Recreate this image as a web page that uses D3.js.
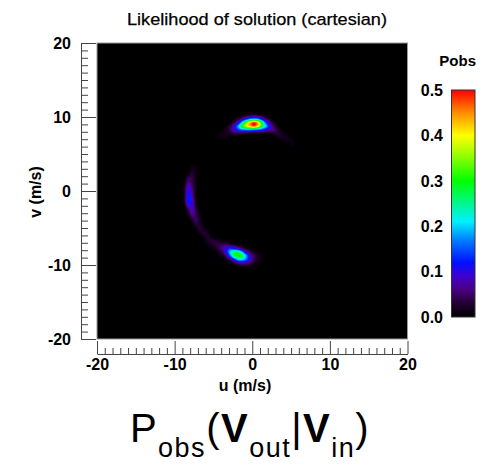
<!DOCTYPE html>
<html><head><meta charset="utf-8">
<script src="https://cdn.jsdelivr.net/npm/d3@7"></script>
<style>
body{margin:0;background:#fff}
svg{display:block}
text{font-family:"Liberation Sans",Arial,Helvetica,sans-serif;fill:#000}
</style>
</head><body>
<svg id="c" width="485" height="466"></svg>
<script>
// ---------- data ----------
const uTicks=[-20,-10,0,10,20];
const vTicks=[-20,-10,0,10,20];
const minorTicks=d3.range(-20,21,1).filter(d=>d%10!==0);
const cTicks=[0,0.1,0.2,0.3,0.4,0.5];
const colorStops=[0,0.03,0.06,0.09,0.12,0.17,0.21,0.3,0.36,0.4,0.45,0.5];
const colorRange=["#000000","#220032","#4a0080","#4000d0","#0010ff","#0080ff","#00f0ff","#00ff00","#a0ff00","#ffff00","#ff8c00","#ff0000"];
const gridStep=0.5;
// likelihood samples (Pobs x 100) on a 0.5 m/s grid, rows from high v to low v
const topCapU0=-4.25, topCapV0=10.75;
const topCap=[
 [0,0,0,0,0,0,0,0,0,0,0,0,0,0,0,0,0,0,0,0],
 [0,0,0,0,0,0,1,2,3,4,3,2,1,0,0,0,0,0,0,0],
 [0,0,0,0,1,3,7,12,17,19,17,11,5,2,0,0,0,0,0,0],
 [0,0,0,1,4,10,21,33,42,48,42,28,15,7,2,0,0,0,0,0],
 [0,0,1,4,10,19,30,38,42,46,40,29,20,11,5,1,0,0,0,0],
 [0,1,2,5,9,13,16,17,17,16,15,13,9,7,6,3,1,0,0,0],
 [1,1,2,2,3,3,2,2,1,1,1,1,1,1,2,3,2,1,0,0],
 [1,1,1,0,0,0,0,0,0,0,0,0,0,0,0,1,2,2,1,0],
 [0,0,0,0,0,0,0,0,0,0,0,0,0,0,0,0,0,1,1,1],
 [0,0,0,0,0,0,0,0,0,0,0,0,0,0,0,0,0,0,0,1]
];
const leftArcU0=-8.75, leftArcV0=3.25;
const leftArc=[
 [0,0,1,1,0,0,0,0,0,0],
 [0,0,2,1,0,0,0,0,0,0],
 [0,1,3,1,0,0,0,0,0,0],
 [0,4,4,1,0,0,0,0,0,0],
 [1,5,4,1,0,0,0,0,0,0],
 [1,8,5,1,0,0,0,0,0,0],
 [2,10,6,1,0,0,0,0,0,0],
 [2,11,7,1,0,0,0,0,0,0],
 [2,12,8,1,0,0,0,0,0,0],
 [2,12,9,2,0,0,0,0,0,0],
 [1,10,10,2,0,0,0,0,0,0],
 [0,6,9,3,0,0,0,0,0,0],
 [0,3,8,4,1,0,0,0,0,0],
 [0,1,6,4,1,0,0,0,0,0],
 [0,0,3,5,2,0,0,0,0,0],
 [0,0,1,4,2,0,0,0,0,0],
 [0,0,0,2,3,1,0,0,0,0],
 [0,0,0,0,3,2,1,0,0,0],
 [0,0,0,0,1,3,2,0,0,0],
 [0,0,0,0,0,1,3,1,0,0],
 [0,0,0,0,0,0,1,3,1,0],
 [0,0,0,0,0,0,0,1,3,2],
 [0,0,0,0,0,0,0,0,0,3]
];
const bottomCapU0=-5.75, bottomCapV0=-6.75;
const bottomCap=[
 [2,3,3,2,1,1,0,0,0,0,0,0,0,0,0,0],
 [1,2,3,4,4,5,3,2,1,1,0,0,0,0,0,0],
 [0,1,2,4,7,11,13,11,8,4,2,1,0,0,0,0],
 [0,0,0,2,5,12,21,26,26,18,9,4,2,1,0,0],
 [0,0,0,1,2,7,17,28,30,27,18,9,4,2,1,0],
 [0,0,0,0,0,2,6,13,20,20,15,9,4,2,1,0],
 [0,0,0,0,0,0,1,3,6,7,7,4,2,1,0,0],
 [0,0,0,0,0,0,0,0,1,1,1,1,1,0,0,0]
];

// ---------- build grid ----------
const lo=-20, N=80;
const G=Array.from({length:N},()=>new Float64Array(N));
function addPatch(rows,u0,v0){
  rows.forEach((row,r)=>row.forEach((val,c)=>{
    const u=u0+c*gridStep, v=v0-r*gridStep;
    const i=Math.round((u-lo)/gridStep-0.5), j=Math.round((-lo-v)/gridStep-0.5);
    if(i>=0&&i<N&&j>=0&&j<N) G[j][i]=Math.max(G[j][i],val/100);
  }));
}
addPatch(topCap,topCapU0,topCapV0);
addPatch(leftArc,leftArcU0,leftArcV0);
addPatch(bottomCap,bottomCapU0,bottomCapV0);
function g(j,i){i=Math.max(0,Math.min(N-1,i));j=Math.max(0,Math.min(N-1,j));return G[j][i];}
function cr(p0,p1,p2,p3,t){return p1+0.5*t*(p2-p0+t*(2*p0-5*p1+4*p2-p3+t*(3*(p1-p2)+p3-p0)));}
function sample(u,v){
  const fi=(u-lo)/gridStep-0.5, fj=(-lo-v)/gridStep-0.5;
  const i0=Math.floor(fi), j0=Math.floor(fj), tx=fi-i0, ty=fj-j0;
  const rows=[];
  for(let dj=-1;dj<=2;dj++){
    rows.push(cr(g(j0+dj,i0-1),g(j0+dj,i0),g(j0+dj,i0+1),g(j0+dj,i0+2),tx));
  }
  return Math.max(0,cr(rows[0],rows[1],rows[2],rows[3],ty));
}

// ---------- scales ----------
const svg=d3.select("#c");
const x=d3.scaleLinear().domain([-20,20]).range([97,407.5]);
const y=d3.scaleLinear().domain([-20,20]).range([339,43]);
const color=d3.scaleLinear().domain(colorStops).range(colorRange).clamp(true);
const cy=d3.scaleLinear().domain([0,0.5]).range([317,90]);
const AX="#444";
const fmtInt=d=>String(d);

// ---------- heat map ----------
const W=Math.round(x(20)-x(-20)), H=Math.round(y(-20)-y(20));
const cv=document.createElement("canvas"); cv.width=W; cv.height=H;
const ctx=cv.getContext("2d"); const img=ctx.createImageData(W,H);
const lut=d3.range(512).map(k=>d3.rgb(color(k/511*0.5)));
for(let py=0;py<H;py++){
  const v=y.invert(y(20)+py+0.5);
  for(let px=0;px<W;px++){
    const u=x.invert(x(-20)+px+0.5);
    const p=sample(u,v);
    const c=lut[Math.max(0,Math.min(511,Math.round(p/0.5*511)))];
    const o=(py*W+px)*4;
    img.data[o]=c.r;img.data[o+1]=c.g;img.data[o+2]=c.b;img.data[o+3]=255;
  }
}
ctx.putImageData(img,0,0);
svg.append("rect").attr("x",x(-20)).attr("y",y(20)).attr("width",x(20)-x(-20)).attr("height",y(-20)-y(20)).attr("fill","#000");
svg.append("image").attr("href",cv.toDataURL()).attr("x",x(-20)).attr("y",y(20))
  .attr("width",x(20)-x(-20)).attr("height",y(-20)-y(20)).attr("preserveAspectRatio","none");
svg.append("rect").attr("x",x(-20)).attr("y",y(20)).attr("width",x(20)-x(-20)).attr("height",y(-20)-y(20))
  .attr("fill","none").attr("stroke","#999").attr("stroke-width",1);

// ---------- axes ----------
function styleAxis(sel){sel.selectAll("line").attr("stroke",AX);sel.selectAll("path").attr("stroke",AX);}
const yAx=svg.append("g").attr("transform","translate(81,0)");
yAx.append("g").call(d3.axisRight(y).tickValues(vTicks).tickSize(15).tickSizeOuter(0).tickFormat("")).call(styleAxis);
yAx.append("g").call(d3.axisRight(y).tickValues(minorTicks).tickSize(7).tickFormat("")).call(g=>g.select(".domain").remove()).call(styleAxis);
yAx.append("g").call(d3.axisLeft(y).tickValues(vTicks).tickSize(0).tickPadding(10).tickFormat(fmtInt))
  .call(g=>g.select(".domain").remove())
  .call(g=>g.selectAll("text").style("font-size","16px").style("font-weight","bold"))
  .attr("font-family",null).attr("font-size",null);

const xAx=svg.append("g").attr("transform","translate(0,354)");
xAx.append("g").call(d3.axisTop(x).tickValues(uTicks).tickSize(13).tickSizeOuter(0).tickFormat("")).call(styleAxis);
xAx.append("g").call(d3.axisTop(x).tickValues(minorTicks).tickSize(6).tickFormat("")).call(g=>g.select(".domain").remove()).call(styleAxis);
xAx.append("g").call(d3.axisBottom(x).tickValues(uTicks).tickSize(0).tickPadding(5).tickFormat(fmtInt))
  .call(g=>g.select(".domain").remove())
  .call(g=>g.selectAll("text").style("font-size","16px").style("font-weight","bold"))
  .attr("font-family",null).attr("font-size",null);

// ---------- labels ----------
svg.append("text").attr("x",257).attr("y",25).attr("text-anchor","middle")
  .style("font-size","17px").attr("textLength",260).attr("lengthAdjust","spacingAndGlyphs")
  .style("stroke","#000").style("stroke-width","0.25px")
  .text("Likelihood of solution (cartesian)");
svg.append("text").attr("x",245).attr("y",391).attr("text-anchor","middle")
  .style("font-size","16px").style("font-weight","bold").text("u (m/s)");
svg.append("text").attr("transform","translate(41,192) rotate(-90)").attr("text-anchor","middle")
  .style("font-size","16px").style("font-weight","bold").text("v (m/s)");

// ---------- colour bar ----------
const defs=svg.append("defs");
const grad=defs.append("linearGradient").attr("id","cb").attr("x1",0).attr("y1",1).attr("x2",0).attr("y2",0);
colorStops.forEach((s,k)=>grad.append("stop").attr("offset",s/0.5).attr("stop-color",colorRange[k]));
svg.append("rect").attr("x",451.5).attr("y",cy(0.5)).attr("width",23.5).attr("height",cy(0)-cy(0.5))
  .attr("fill","url(#cb)").attr("stroke","#333").attr("stroke-width",1);
svg.append("g").selectAll("text").data(cTicks).join("text")
  .attr("x",443).attr("y",d=>cy(d)).attr("dy","0.36em").attr("text-anchor","end")
  .style("font-size","16px").style("font-weight","bold").text(d3.format(".1f"));
svg.append("text").attr("x",476).attr("y",66).attr("text-anchor","end")
  .style("font-size","15px").style("font-weight","bold").text("Pobs");

// ---------- formula ----------
const f=svg.append("text").attr("x",250).attr("y",442).attr("text-anchor","middle")
  .style("font-size","40px").style("letter-spacing","1.5px");
f.append("tspan").text("P");
f.append("tspan").style("font-size","27px").attr("dy",15).text("obs");
f.append("tspan").attr("dy",-15).text("(");
f.append("tspan").style("font-weight","bold").text("V");
f.append("tspan").style("font-size","27px").attr("dy",15).text("out");
f.append("tspan").attr("dy",-15).text("|");
f.append("tspan").style("font-weight","bold").text("V");
f.append("tspan").style("font-size","27px").attr("dy",15).text("in");
f.append("tspan").attr("dy",-15).text(")");
</script>
</body></html>
